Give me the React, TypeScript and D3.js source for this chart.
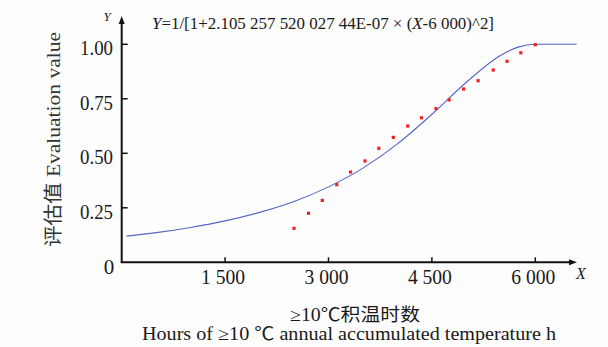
import React from "react";
import * as d3 from "d3";

// fitted curve
const curveX = [70, 500, 1000, 1500, 2000, 2500, 3000, 3500, 4000, 4500, 5000, 5500, 5750, 6000, 6600];
const curveY = [0.12, 0.136, 0.16, 0.19, 0.229, 0.279, 0.346, 0.432, 0.543, 0.679, 0.826, 0.95, 0.987, 1, 1];

// observed points
const pointX = [2500, 2710, 2910, 3120, 3320, 3530, 3730, 3940, 4150, 4350, 4560, 4750, 4960, 5170, 5390, 5590, 5790, 6000];
const pointY = [0.156, 0.225, 0.284, 0.356, 0.414, 0.465, 0.523, 0.573, 0.625, 0.663, 0.705, 0.745, 0.795, 0.833, 0.882, 0.922, 0.961, 0.998];

const xTicks = [1500, 3000, 4500, 6000];
const xTickLabels = ["1 500", "3 000", "4 500", "6 000"];
const yTicks = [0.25, 0.5, 0.75, 1];
const yTickLabels = ["0.25", "0.50", "0.75", "1.00"];

const W = 608;
const H = 347;
const serif = "'Liberation Serif', 'Noto Sans CJK SC', serif";

export default function App() {
  const x = d3.scaleLinear().domain([0, 6000]).range([121.7, 535.3]);
  const y = d3.scaleLinear().domain([0, 1]).range([262.3, 44.3]);

  const line = d3.line<number>()
    .x((d, i) => x(curveX[i]))
    .y(d => y(d))
    .curve(d3.curveMonotoneX);

  const x0 = x(0);
  const y0 = y(0);

  return (
    <div style={{position: "absolute", left: 0, top: 0}}>
      <svg width={W} height={H} style={{display: "block", background: "#fdfdfd"}} fontFamily={serif}>
        {/* curve */}
        <path d={line(curveY) || ""} fill="none" stroke="#5566c4" strokeWidth={1.1} />
        {/* points */}
        {pointX.map((px, i) => (
          <rect key={i} x={x(px) - 1.6} y={y(pointY[i]) - 1.6} width={3.2} height={3.2} fill="#ee2024" />
        ))}

        {/* axes */}
        <line x1={x0} y1={y0} x2={x0} y2={22} stroke="#111" strokeWidth={2} />
        <path d={`M${x0},16 L${x0 - 3},24 L${x0 + 3},24 Z`} fill="#111" />
        <line x1={x0 - 1} y1={y0} x2={570} y2={y0} stroke="#111" strokeWidth={2} />
        <path d={`M577,${y0} L569,${y0 - 3} L569,${y0 + 3} Z`} fill="#111" />

        {yTicks.map((t, i) => (
          <g key={t}>
            <line x1={x0} x2={x0 + 6} y1={y(t)} y2={y(t)} stroke="#111" strokeWidth={1.5} />
            <text x={113} y={y(t) + 11} fontSize={21} textAnchor="end" fill="#1a1a1a"
                  textLength={33} lengthAdjust="spacingAndGlyphs">{yTickLabels[i]}</text>
          </g>
        ))}
        {xTicks.map((t, i) => (
          <g key={t}>
            <line x1={x(t)} x2={x(t)} y1={y0} y2={y0 - 5} stroke="#111" strokeWidth={1.5} />
            <text x={x(t) - 24} y={284} fontSize={21} fill="#1a1a1a"
                  textLength={44} lengthAdjust="spacingAndGlyphs">{xTickLabels[i]}</text>
          </g>
        ))}
        <text x={109} y={274} fontSize={21} textAnchor="middle" fill="#1a1a1a">0</text>

        {/* axis letters */}
        <text x={107} y={21} fontSize={13} fontStyle="italic" textAnchor="middle" fill="#222">Y</text>
        <text x={581} y={279} fontSize={16} fontStyle="italic" textAnchor="middle" fill="#222">X</text>

        {/* equation */}
        <text x={152} y={29} fontSize={16} fill="#1a1a1a" textLength={342} lengthAdjust="spacingAndGlyphs">
          <tspan fontStyle="italic">Y</tspan>=1/[1+2.105 257 520 027 44E-07 × (<tspan fontStyle="italic">X</tspan>-6 000)^2]
        </text>

        {/* axis titles */}
        <text transform="translate(53.5,139.5) rotate(-90)" fontSize={19} textAnchor="middle"
              dominantBaseline="central" fill="#333" textLength={215} lengthAdjust="spacingAndGlyphs">
          评估值 Evaluation value
        </text>
        <text x={290} y={321} fontSize={18} fill="#1a1a1a" textLength={130} lengthAdjust="spacingAndGlyphs">
          ≥10℃积温时数
        </text>
        <text x={142} y={340} fontSize={18} fill="#1a1a1a" textLength={414} lengthAdjust="spacingAndGlyphs">
          Hours of ≥10 ℃ annual accumulated temperature h
        </text>
      </svg>
    </div>
  );
}
